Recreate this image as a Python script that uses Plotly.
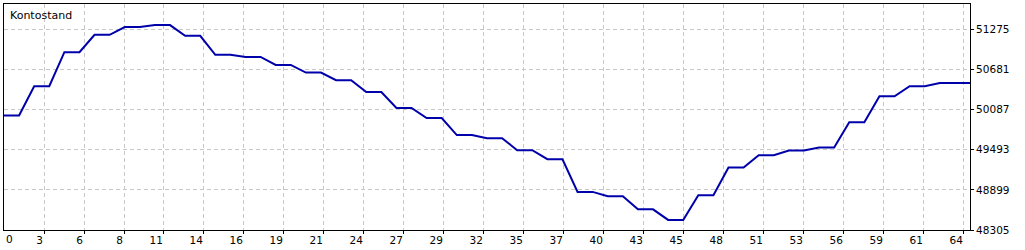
import plotly.graph_objects as go

# ---- data ----
trade_index = list(range(65))
balance = [
    50000, 50000, 50433, 50433, 50938, 50938, 51195, 51195, 51309, 51309,
    51339, 51339, 51180, 51180, 50898, 50898, 50868, 50868, 50749, 50749,
    50636, 50636, 50522, 50522, 50348, 50348, 50111, 50111, 49962, 49962,
    49710, 49710, 49665, 49665, 49487, 49487, 49353, 49353, 48869, 48869,
    48804, 48804, 48611, 48611, 48454, 48454, 48819, 48819, 49230, 49230,
    49413, 49413, 49483, 49483, 49527, 49527, 49899, 49899, 50285, 50285,
    50433, 50433, 50482, 50482, 50482,
]
x_tick_labels = ["0", "3", "6", "8", "11", "14", "16", "19", "21", "24", "27", "29",
                 "32", "35", "37", "40", "43", "45", "48", "51", "53", "56", "59",
                 "61", "64"]
y_tick_values = [48305, 48899, 49493, 50087, 50681, 51275]
series_name = "Kontostand"

# ---- layout constants ----
x_grid_step = 2.65          # evenly spaced grid (in trade units)
y_range = [48305, 51651]
x_range = [0, 64]
font_family = "DejaVu Sans"

fig = go.Figure()
fig.add_trace(go.Scatter(
    x=trade_index, y=balance, mode="lines",
    line=dict(color="#0000AA", width=2),
    hoverinfo="skip", showlegend=False,
))

x_tickvals = [k * x_grid_step for k in range(1, len(x_tick_labels))]

fig.update_layout(
    width=1025, height=250,
    margin=dict(l=4, r=55, t=4, b=20),
    paper_bgcolor="white", plot_bgcolor="white",
    font=dict(family=font_family, size=10.5, color="black"),
    xaxis=dict(
        range=x_range, tickmode="array",
        tickvals=x_tickvals, ticktext=x_tick_labels[1:],
        ticklabelposition="outside left",
        ticks="outside", ticklen=3, tickcolor="black", tickwidth=1,
        showgrid=True, gridcolor="#c8c8c8", griddash="4px,3px", gridwidth=1,
        showline=True, linecolor="black", linewidth=1, mirror=True,
        zeroline=False, fixedrange=True,
    ),
    yaxis=dict(
        range=y_range, side="right", tickmode="array",
        tickvals=y_tick_values, ticktext=[str(v) for v in y_tick_values],
        ticks="outside", ticklen=3, tickcolor="black", tickwidth=1,
        showgrid=True, gridcolor="#c8c8c8", griddash="4px,3px", gridwidth=1,
        showline=True, linecolor="black", linewidth=1, mirror=True,
        zeroline=False, fixedrange=True,
    ),
    annotations=[
        dict(text=series_name, xref="paper", yref="paper", x=0, y=1,
             xanchor="left", yanchor="top", xshift=4, yshift=-3,
             showarrow=False, font=dict(family=font_family, size=11, color="black")),
        dict(text=x_tick_labels[0], xref="x", yref="paper", x=0, y=0,
             xanchor="left", yanchor="top", xshift=0, yshift=-1,
             showarrow=False, font=dict(family=font_family, size=10.5, color="black")),
    ],
)

fig.write_html("out.html")
